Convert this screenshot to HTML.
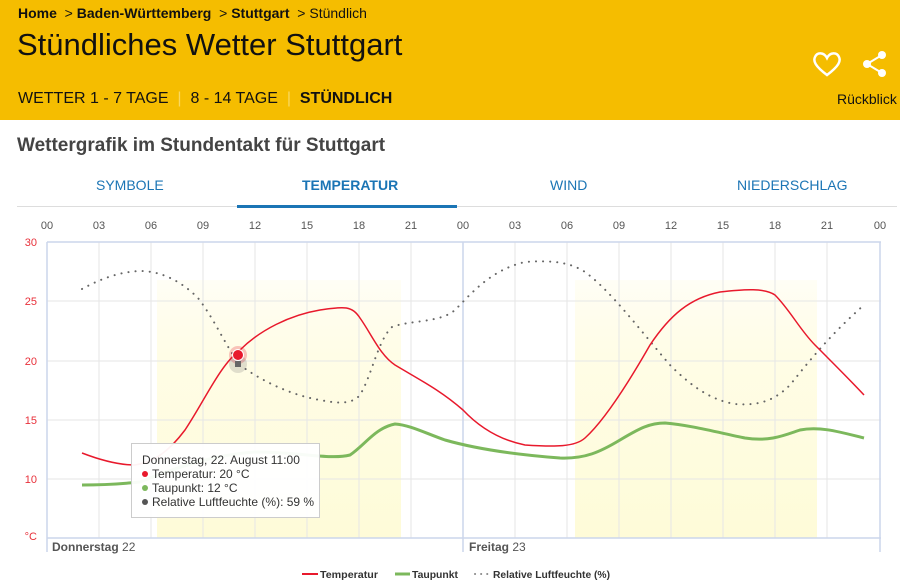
<!DOCTYPE html>
<html><head><meta charset="utf-8"><style>
body{margin:0;width:900px;height:588px;overflow:hidden;font-family:"Liberation Sans",sans-serif;background:#fff;position:relative}
.hdr{position:absolute;left:0;top:0;width:900px;height:120px;background:#f5bd00}
.t{position:absolute;white-space:nowrap}
</style></head><body>
<div class="hdr"></div>
<div class="t" style="left:18px;top:5px;font-size:14px;color:#111"><b style="font-weight:600">Home</b> &nbsp;&gt; <b style="font-weight:600">Baden-Württemberg</b> &nbsp;&gt; <b style="font-weight:600">Stuttgart</b> &nbsp;&gt; Stündlich</div>
<div class="t" style="left:17px;top:27px;font-size:31px;color:#111">Stündliches Wetter Stuttgart</div>
<div class="t" style="left:18px;top:90px;font-size:16px;color:#111">WETTER 1 - 7 TAGE <span style="color:#f8d860">&nbsp;|&nbsp;</span> 8 - 14 TAGE <span style="color:#f8d860">&nbsp;|&nbsp;</span> <b>STÜNDLICH</b></div>
<div class="t" style="left:837px;top:91px;font-size:14px;color:#111">Rückblick</div>
<svg style="position:absolute;left:812px;top:50px" width="30" height="28" viewBox="0 0 30 28"><path d="M15 25 C3 16 1 11 3 7 C5 2 12 2 15 8 C18 2 25 2 27 7 C29 11 27 16 15 25Z" fill="none" stroke="#fff" stroke-width="2.5"/></svg>
<svg style="position:absolute;left:861px;top:50px" width="28" height="28" viewBox="0 0 28 28"><circle cx="21" cy="5" r="4" fill="#fff"/><circle cx="6" cy="14" r="4" fill="#fff"/><circle cx="21" cy="23" r="4" fill="#fff"/><path d="M21 5L6 14L21 23" stroke="#fff" stroke-width="2" fill="none"/></svg>
<div class="t" style="left:17px;top:135px;font-size:19px;font-weight:bold;color:#444">Wettergrafik im Stundentakt für Stuttgart</div>
<div class="t" style="left:96px;top:177px;font-size:14px;color:#1b75b5">SYMBOLE</div>
<div class="t" style="left:302px;top:177px;font-size:14px;color:#1b75b5;font-weight:bold">TEMPERATUR</div>
<div class="t" style="left:550px;top:177px;font-size:14px;color:#1b75b5">WIND</div>
<div class="t" style="left:737px;top:177px;font-size:14px;color:#1b75b5">NIEDERSCHLAG</div>
<div style="position:absolute;left:17px;top:206px;width:880px;height:1px;background:#ddd"></div>
<div style="position:absolute;left:237px;top:205px;width:220px;height:3px;background:#1b75b5"></div>
<svg style="position:absolute;left:0;top:0" width="900" height="588" font-family="Liberation Sans, sans-serif">
<defs><linearGradient id="y" x1="0" y1="0" x2="0" y2="1"><stop offset="0" stop-color="#fffbe0" stop-opacity="0.3"/><stop offset="0.3" stop-color="#fffde6"/><stop offset="1" stop-color="#fefbd8"/></linearGradient></defs>
<rect x="157" y="280" width="244" height="258" fill="url(#y)"/>
<rect x="575" y="280" width="242" height="258" fill="url(#y)"/>
<g stroke="#e6e6e6" stroke-width="1">
<path d="M47 301H881M47 361H881M47 420H881M47 479H881"/>
<path d="M99 242V538M151 242V538M203 242V538M255 242V538M307 242V538M359 242V538M411 242V538M515 242V538M567 242V538M619 242V538M671 242V538M723 242V538M775 242V538M827 242V538"/>
</g>
<path d="M47 242V552M463 242V552M880 242V552" stroke="#ccd6eb" stroke-width="1.5"/>
<path d="M47 242H881M47 538H881" stroke="#ccd6eb" stroke-width="1.5"/>
<g font-size="11" fill="#555" text-anchor="middle">
<text x="47" y="229">00</text><text x="99" y="229">03</text><text x="151" y="229">06</text><text x="203" y="229">09</text><text x="255" y="229">12</text><text x="307" y="229">15</text><text x="359" y="229">18</text><text x="411" y="229">21</text><text x="463" y="229">00</text><text x="515" y="229">03</text><text x="567" y="229">06</text><text x="619" y="229">09</text><text x="671" y="229">12</text><text x="723" y="229">15</text><text x="775" y="229">18</text><text x="827" y="229">21</text><text x="880" y="229">00</text>
</g>
<g font-size="11" fill="#e8303a" text-anchor="end">
<text x="37" y="246">30</text><text x="37" y="305">25</text><text x="37" y="365">20</text><text x="37" y="424">15</text><text x="37" y="483">10</text><text x="37" y="540">°C</text>
</g>
<text x="52" y="551" font-size="12" fill="#555"><tspan font-weight="bold">Donnerstag</tspan> 22</text>
<text x="469" y="551" font-size="12" fill="#555"><tspan font-weight="bold">Freitag</tspan> 23</text>
<path d="M82 289C95 282 115 272 140 271C160 271 180 280 198 298C215 320 225 345 240 365C260 380 290 395 320 400C340 404 352 404 360 395C372 375 378 340 392 327C410 320 440 323 455 310C470 295 490 270 525 262C550 260 570 262 585 272C610 290 640 330 670 365C690 385 710 400 735 404C760 406 775 400 790 385C810 360 830 335 864 305" fill="none" stroke="#666" stroke-width="2" stroke-dasharray="0.1,7" stroke-linecap="round"/>
<path d="M82 485C100 485 120 484 140 482C170 470 210 455 255 452C300 452 330 460 350 455C365 445 375 428 395 424C410 425 425 433 445 440C480 450 520 455 560 458C585 459 600 452 620 440C640 428 650 423 665 423C690 425 720 433 745 438C770 442 785 435 800 430C820 426 840 432 864 438" fill="none" stroke="#7cb85c" stroke-width="3"/>
<path d="M82 453C95 458 115 465 135 465C155 462 170 450 185 430C205 400 220 365 240 350C260 330 290 315 320 310C345 306 352 306 360 318C372 335 380 355 395 365C420 380 440 390 463 410C480 428 500 440 525 445C555 447 575 447 585 438C605 420 630 380 650 345C670 315 690 298 720 292C745 289 765 288 775 295C790 310 800 330 815 345C835 365 850 380 864 395" fill="none" stroke="#e8192c" stroke-width="1.5"/>
<circle cx="238" cy="355" r="9" fill="#e8192c" opacity="0.25"/>
<circle cx="238" cy="364" r="9" fill="#666" opacity="0.2"/>
<rect x="235" y="361" width="6" height="6" fill="#666"/>
<circle cx="238" cy="355" r="5.5" fill="#e8192c" stroke="#fff" stroke-width="1"/>
<rect x="131.5" y="443.5" width="188" height="74" fill="#fff" fill-opacity="0.95" stroke="#ccc"/>
<g font-size="12" fill="#333">
<text x="142" y="464">Donnerstag, 22. August 11:00</text>
<circle cx="145" cy="474" r="3" fill="#e8192c"/><text x="152" y="478">Temperatur: 20 °C</text>
<circle cx="145" cy="488" r="3" fill="#7cb85c"/><text x="152" y="492">Taupunkt: 12 °C</text>
<circle cx="145" cy="502" r="3" fill="#555"/><text x="152" y="506">Relative Luftfeuchte (%): 59 %</text>
</g>
<g font-size="10.5" fill="#333" font-weight="bold">
<path d="M302 574H318" stroke="#e8192c" stroke-width="2"/><text x="320" y="578" textLength="58" lengthAdjust="spacingAndGlyphs">Temperatur</text>
<path d="M395 574H410" stroke="#7cb85c" stroke-width="3"/><text x="412" y="578" textLength="46" lengthAdjust="spacingAndGlyphs">Taupunkt</text>
<path d="M475 574H489" stroke="#888" stroke-width="2" stroke-dasharray="0.1,6" stroke-linecap="round"/><text x="493" y="578" textLength="117" lengthAdjust="spacingAndGlyphs">Relative Luftfeuchte (%)</text>
</g>
</svg>
</body></html>
